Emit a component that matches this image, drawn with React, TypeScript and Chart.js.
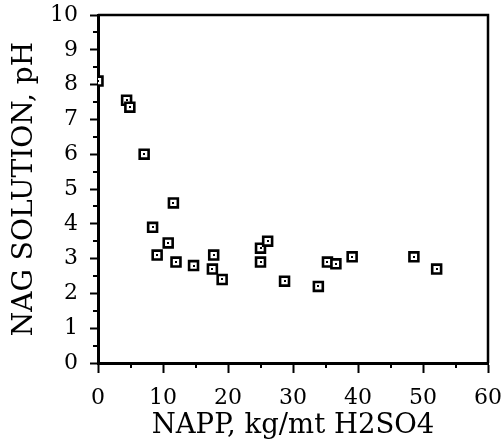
import React, { useEffect, useRef } from "react";
import { Chart, registerables } from "chart.js";

Chart.register(...registerables);

const nappValues = [0, 4.4, 4.9, 7.1, 11.6, 8.4, 9.1, 10.8, 12.0, 14.7, 17.8, 17.6, 19.1, 25.0, 26.1, 25.0, 28.7, 33.9, 35.3, 36.6, 39.1, 48.6, 52.1];
const phValues = [8.1, 7.55, 7.35, 6.0, 4.6, 3.9, 3.1, 3.45, 2.9, 2.8, 3.1, 2.7, 2.4, 3.3, 3.5, 2.9, 2.35, 2.2, 2.9, 2.85, 3.05, 3.05, 2.7];

const xTitle = "NAPP, kg/mt H2SO4";
const yTitle = "NAG SOLUTION, pH";
const xMin = 0, xMax = 60, xStep = 10;
const yMin = 0, yMax = 10, yStep = 1;

const FONT = "'DejaVu Serif', 'Liberation Serif', serif";

const framePlugin = {
  id: "frameAndMinor",
  afterDraw(chart: any) {
    const { ctx, chartArea, scales } = chart;
    const { left, right, top, bottom } = chartArea;
    ctx.save();
    ctx.strokeStyle = "#000";
    ctx.lineWidth = 2.5;
    ctx.beginPath();
    ctx.moveTo(left, top);
    ctx.lineTo(right, top);
    ctx.lineTo(right, bottom);
    ctx.stroke();
    ctx.lineWidth = 2;
    ctx.beginPath();
    for (let v = yMin + yStep / 2; v < yMax; v += yStep) {
      const py = Math.round(scales.y.getPixelForValue(v));
      ctx.moveTo(left - 5, py);
      ctx.lineTo(left, py);
    }
    for (let v = xMin + xStep / 2; v < xMax; v += xStep) {
      const px = Math.round(scales.x.getPixelForValue(v));
      ctx.moveTo(px, bottom);
      ctx.lineTo(px, bottom + 5);
    }
    ctx.stroke();
    ctx.restore();
  },
  afterDatasetsDraw(chart: any) {
    const { ctx } = chart;
    ctx.save();
    ctx.fillStyle = "#000";
    chart.getDatasetMeta(0).data.forEach((el: any) => {
      ctx.fillRect(Math.round(el.x) - 1, Math.round(el.y) - 1, 2, 2);
    });
    ctx.restore();
  },
};

export default function App() {
  const ref = useRef<HTMLCanvasElement | null>(null);
  useEffect(() => {
    if (!ref.current) return;
    const chart = new Chart(ref.current, {
      type: "scatter",
      data: {
        datasets: [
          {
            data: nappValues.map((x, i) => ({ x, y: phValues[i] })),
            pointStyle: "rect",
            pointRadius: 6.3,
            pointBorderWidth: 2.6,
            pointBackgroundColor: "#fff",
            pointBorderColor: "#000",
          },
        ],
      },
      options: {
        responsive: false,
        animation: false,
        layout: { padding: { left: 0, right: 15, top: 15, bottom: 0 } },
        plugins: { legend: { display: false }, tooltip: { enabled: false } },
        scales: {
          x: {
            type: "linear",
            min: xMin,
            max: xMax,
            ticks: { stepSize: xStep, color: "#000", font: { family: FONT, size: 22 }, padding: 12, maxRotation: 0 },
            grid: { drawOnChartArea: false, drawTicks: true, tickLength: 10, tickWidth: 2, tickColor: "#000" },
            border: { color: "#000", width: 3 },
            title: { display: true, text: xTitle, color: "#000", font: { family: FONT, size: 27.5, lineHeight: 1.2 }, padding: { top: 0, bottom: 0 } },
            afterFit(scale: any) {
              scale.height = 79;
              scale.paddingLeft = 0;
              scale.paddingRight = 0;
            },
          },
          y: {
            type: "linear",
            min: yMin,
            max: yMax,
            ticks: { stepSize: yStep, color: "#000", font: { family: FONT, size: 22 }, padding: 12 },
            grid: { drawOnChartArea: false, drawTicks: true, tickLength: 8, tickWidth: 2, tickColor: "#000" },
            border: { color: "#000", width: 3 },
            title: { display: true, text: yTitle, color: "#000", font: { family: FONT, size: 28, lineHeight: 1.2 }, padding: { top: 8, bottom: 0 } },
            afterFit(scale: any) {
              scale.width = 98;
              scale.paddingTop = 0;
              scale.paddingBottom = 0;
            },
          },
        },
      },
      plugins: [framePlugin],
    });
    return () => chart.destroy();
  }, []);
  return (
    <div style={{ position: "absolute", left: 0, top: 0, width: 503, height: 442, background: "#fff" }}>
      <canvas ref={ref} width={503} height={442} style={{ display: "block" }} />
    </div>
  );
}
